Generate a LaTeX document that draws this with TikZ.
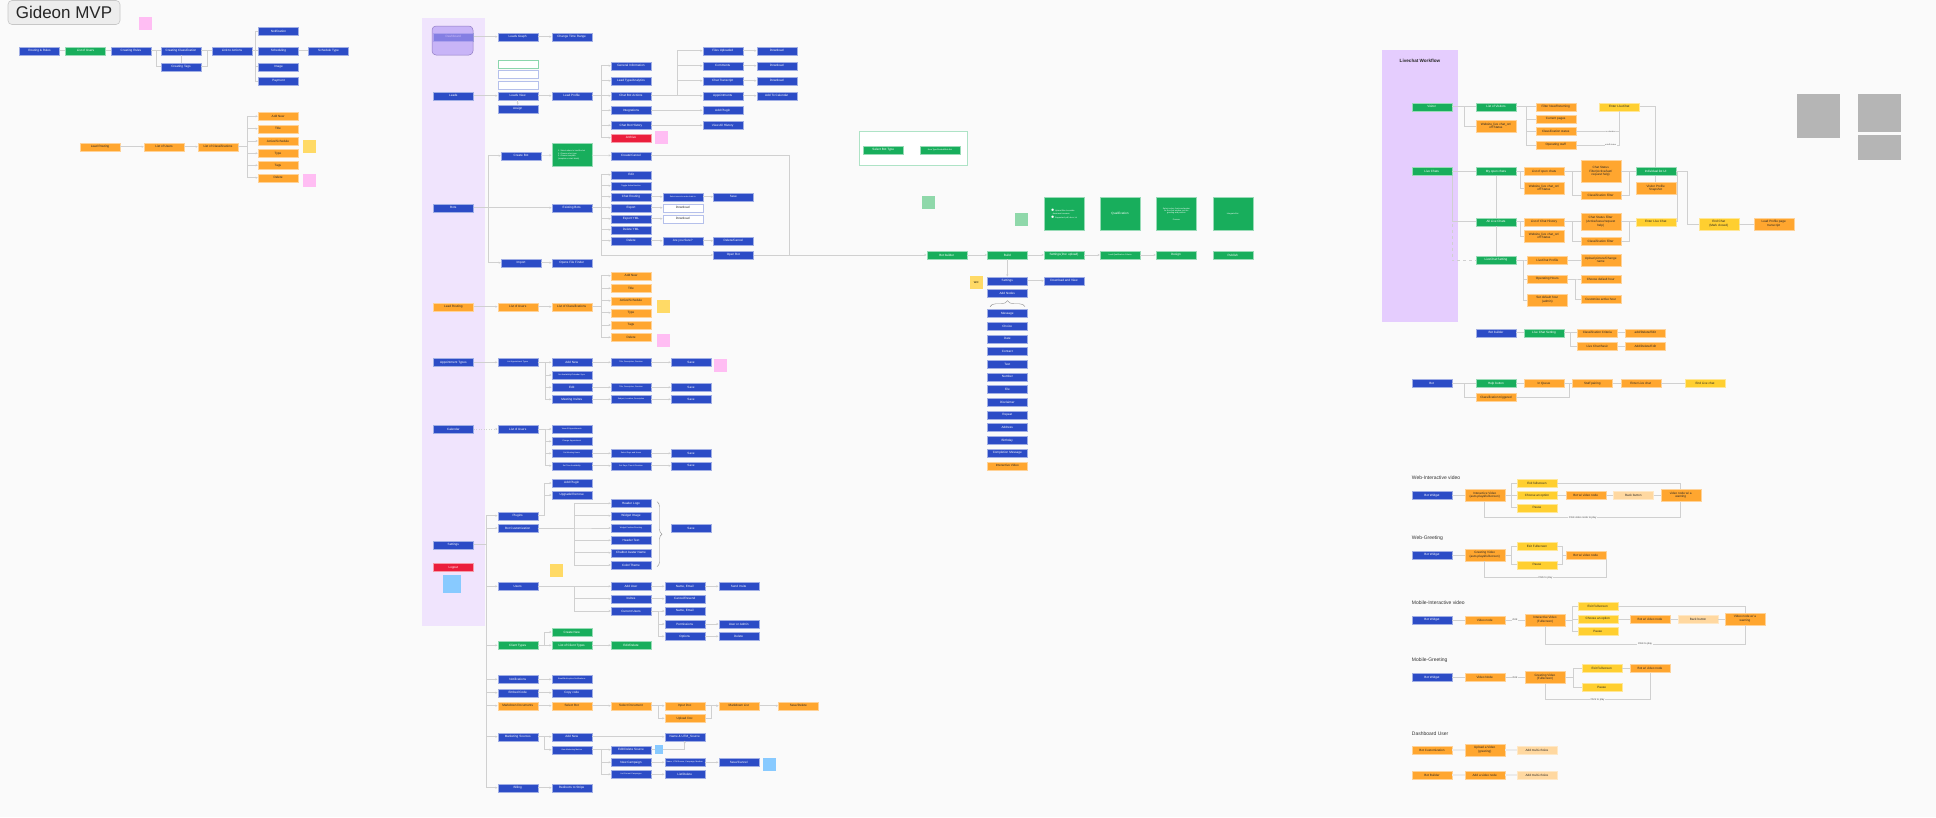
\documentclass[tikz,border=0pt]{standalone}
\usepackage{fontspec}
\setmainfont{Liberation Sans}
\usetikzlibrary{arrows.meta, positioning, decorations.pathreplacing}
\definecolor{cblue}{HTML}{2C4CC6}
\definecolor{cgreen}{HTML}{18AE5C}
\definecolor{corange}{HTML}{FFA62F}
\definecolor{cyellow}{HTML}{FFCF30}
\definecolor{cred}{HTML}{EB1E3C}
\definecolor{cpale}{HTML}{FFD8A0}
\definecolor{cline}{HTML}{D0D0D0}
\definecolor{cbg}{HTML}{FAFAFA}
\definecolor{cpanel}{HTML}{F0E4FD}
\definecolor{cpanelb}{HTML}{E5CDFE}
\definecolor{cviolet}{HTML}{B49BF4}
\definecolor{cpink}{HTML}{FFBDF3}
\definecolor{csticky}{HTML}{FFDA66}
\definecolor{csky}{HTML}{88CAFF}
\definecolor{cmint}{HTML}{8FD8AA}
\definecolor{cnote}{HTML}{B5B5B5}
\tikzset{
  box/.style={rectangle, minimum width=40pt, minimum height=8pt, inner sep=0.4pt, align=center, font=\fontsize{3.1}{3.7}\selectfont, line width=0.4pt},
  nblue/.style={box, fill=cblue, draw=cblue!45, text=white},
  ngreen/.style={box, fill=cgreen, draw=cgreen!45, text=white},
  norange/.style={box, fill=corange, draw=corange!50, text=black!85},
  nyellow/.style={box, fill=cyellow, draw=cyellow!50, text=black!85},
  nred/.style={box, fill=cred, draw=cred!45, text=white},
  npale/.style={box, fill=cpale, draw=cpale!60, text=black!85},
  nwhite/.style={box, fill=white, draw=cblue!35, text=black!85},
  tinytext/.style={font=\fontsize{2}{2.4}\selectfont},
  twoline/.style={minimum height=12pt},
  sticky/.style={fill=#1, minimum width=13pt, minimum height=13pt, inner sep=0pt, font=\fontsize{2.6}{3}\selectfont},
  sticky/.default=csticky,
  link/.style={draw=cline, line width=0.5pt},
  arrow/.style={link, -{Stealth[length=2.2pt, width=2.2pt]}},
  lbl/.style={fill=cbg, inner sep=0.6pt, font=\fontsize{2.6}{3}\selectfont, text=black!70},
  head/.style={anchor=west, inner sep=0pt, font=\fontsize{5}{6}\selectfont, text=black!80},
  titlebox/.style={fill=black!7, draw=black!22, line width=0.6pt, rounded corners=4pt, minimum width=112pt, minimum height=24pt, font=\fontsize{17}{18}\selectfont, text=black!85},
  lens/.style={fill=cviolet, fill opacity=0.65, draw=cviolet!80!black, line width=0.5pt, rounded corners=4pt, minimum width=41pt, minimum height=29pt},
  greybox/.style={fill=cnote, inner sep=0pt},
  brace/.style={draw=black!45, line width=0.4pt, decorate, decoration={brace, amplitude=#1}},
  brace/.default=4pt,
}

\begin{document}
\begin{tikzpicture}[x=1pt, y=-1pt]
  \fill[cbg] (0,0) rectangle (1936,817);
  \fill[cpanel] (422,18.3) rectangle (485,625.7);
  \fill[cpanelb] (1381.7,49.5) rectangle (1457.7,321.7);

  % top left
  \node[titlebox] (ttl) at (64,12.5) {Gideon MVP};
  \node[sticky=cpink] (pk1) at (145,23.5) {};
  \node[nblue] (rr) at (39.5,50.7) {Routing \& Rules};
  \node[ngreen] (lu) at (85.5,50.7) {List of Users};
  \node[nblue] (cr) at (131,50.7) {Creating Rules};
  \node[nblue] (cc) at (181,50.7) {Creating Classification};
  \node[nblue] (ct) at (181,66.7) {Creating Tags};
  \node[nblue] (la) at (232,50.7) {Link to Actions};
  \foreach \n/\y/\t in {nf/31.3/Notification, sc/50.7/Scheduling, img/66.7/Image, pay/81/Payment} \node[nblue] (\n) at (278.5,\y) {\t};
  \node[nblue] (sty) at (328.5,50.7) {Schedule Type};
  \foreach \a/\b in {rr/lu, lu/cr, cr/cc, cc/la, sc/sty, cc/ct} \draw[link] (\a) -- (\b);
  \draw[link] (cr.east) -- ++(4.7,0) |- (ct.west);
  \draw[link] (ct.east) -- ++(6,0) |- (la.west);
  \foreach \c in {nf, sc, img, pay} \draw[link] (la.east) -- ++(3,0) |- (\c.west);

  \node[norange] (lr) at (100,146.7) {Lead Routing};
  \node[norange] (lru) at (164,146.7) {List of Users};
  \node[norange] (lrc) at (218,146.7) {List of Classifications};
  \foreach \n/\y/\t in {lra/116.3/Add New, lrt/128.7/Title, lrs/141/{Active/Schedule}, lry/153.3/Type, lrg/165.3/Tags, lrd/177.7/Delete} \node[norange] (\n) at (278,\y) {\t};
  \draw[arrow] (lr) -- (lru); \draw[arrow] (lru) -- (lrc);
  \foreach \c in {lra, lrt, lrs, lry, lrg, lrd} \draw[arrow] (lrc.east) -- ++(9,0) |- (\c.west);
  \node[sticky] (sy1) at (309.5,146.5) {};
  \node[sticky=cpink] (pk2) at (309.5,180.5) {};

  % middle column
  \node[nblue] (dsh) at (453.3,36.7) {Dashboard};
  \node[lens] (lns) at (452.5,40.5) {};
  \node[nblue] (lgr) at (517.7,36.7) {Leads Graph};
  \node[nblue] (ctr) at (571.7,36.7) {Change Time Range};
  \draw[arrow] (dsh) -- (lgr); \draw[arrow] (lgr) -- (ctr);

  \node[nwhite, draw=cgreen!50] (wb1) at (517.7,64) {};
  \node[nwhite] (wb2) at (517.7,74.3) {};
  \node[nwhite] (wb3) at (517.7,85) {};
  \node[nblue] (lds) at (453.3,95.7) {Leads};
  \node[nblue] (ldv) at (517.7,95.7) {Leads View};
  \node[nblue] (asg) at (517.7,109) {Assign};
  \node[nblue] (lpf) at (571.7,95.7) {Lead Profile};
  \draw[arrow] (lds) -- (ldv); \draw[arrow] (ldv) -- (lpf); \draw[arrow] (ldv) -- (asg);
  \foreach \n/\y/\t in {gin/65.7/General Information, lta/80.7/{Lead Type/Analytics}, cba/95.7/Chat Bot Actions, itg/110.3/Integrations, cbh/125.3/Chat Bot History} \node[nblue] (\n) at (631,\y) {\t};
  \node[nred] (arc) at (631,137.7) {Archive};
  \node[sticky=cpink] (pk3) at (661,137.5) {};
  \foreach \c in {gin, lta, cba, itg, cbh, arc} \draw[arrow] (lpf.east) -- ++(9.3,0) |- (\c.west);
  \foreach \n/\y/\t in {fup/50.7/Files Uploaded, cmt/65.7/Comments, ctp/80.7/Chat Transcript, apt/95.7/Appointments} \node[nblue] (\n) at (722.7,\y) {\t};
  \foreach \c in {fup, cmt, ctp, apt} \draw[arrow] (cba.east) -- ++(25.7,0) |- (\c.west);
  \foreach \n/\y in {dl1/50.7, dl2/65.7, dl3/80.7} \node[nblue] (\n) at (776.7,\y) {Download};
  \node[nblue] (atc) at (776.7,95.7) {Add To Calendar};
  \node[nblue] (apl) at (722.7,110.3) {Add Plugin};
  \node[nblue] (vah) at (722.7,125.3) {View All History};
  \foreach \a/\b in {fup/dl1, cmt/dl2, ctp/dl3, apt/atc, itg/apl, cbh/vah} \draw[arrow] (\a) -- (\b);

  \node[nblue] (bts) at (453.3,207.7) {Bots};
  \node[nblue] (cbt) at (521,155.7) {Create Bot};
  \node[ngreen, minimum height=23pt, tinytext, align=left] (cbs) at (571.7,155) {1. Select where to load the bot\\2. Choose a bot type\\3. Choose template\\(template or start blank)};
  \node[nblue] (ccl) at (631,155.7) {Create/Cancel};
  \node[nblue] (ebt) at (571.7,207.7) {Existing Bots};
  \node[nblue] (imp) at (521,262.7) {Import};
  \node[nblue] (off) at (571.7,262.7) {Opens File Finder};
  \foreach \n/\y/\t in {edt/174.7/Edit, chr/196.7/Chat Routing, exp/207.7/Export, exy/218.7/Export YML, dly/229.7/Delete YML, dlt/240.7/Delete} \node[nblue] (\n) at (631,\y) {\t};
  \node[nblue, tinytext] (tgl) at (631,185.7) {Toggle Active/Inactive};
  \node[nblue] (obt) at (733.3,255) {Open Bot};
  \node[nblue, tinytext] (crt) at (682.7,196.7) {Select users to route chats to};
  \node[nblue] (sv1) at (733.3,196.7) {Save};
  \node[nwhite] (dw1) at (682.7,207.7) {Download};
  \node[nwhite] (dw2) at (682.7,218.7) {Download};
  \node[nblue] (ays) at (682.7,240.7) {Are you Sure?};
  \node[nblue] (dcn) at (733.3,240.7) {Delete/Cancel};
  \draw[arrow] (bts) -- (ebt);
  \foreach \c in {cbt, imp} \draw[arrow] (bts.east) -- ++(14.4,0) |- (\c.west);
  \foreach \a/\b in {cbt/cbs, cbs/ccl, imp/off, chr/crt, crt/sv1, exp/dw1, exy/dw2, dlt/ays, ays/dcn} \draw[arrow] (\a) -- (\b);
  \foreach \c in {edt, tgl, chr, exp, exy, dly, dlt, obt} \draw[arrow] (ebt.east) -- ++(9.3,0) |- (\c.west);
  \coordinate (jbt) at (789,255);
  \draw[link] (ccl.east) -| (jbt);

  \node[norange] (lr2) at (453.3,306.7) {Lead Routing};
  \node[norange] (lu2) at (517.7,306.7) {List of Users};
  \node[norange] (lc2) at (571.7,306.7) {List of Classifications};
  \foreach \n/\y/\t in {ka/275.7/Add New, kt/288.3/Title, ks/300.7/{Active/Schedule}, ky/312.7/Type, kg/325/Tags, kd/337.3/Delete} \node[norange] (\n) at (631,\y) {\t};
  \draw[arrow] (lr2) -- (lu2); \draw[arrow] (lu2) -- (lc2);
  \foreach \c in {ka, kt, ks, ky, kg, kd} \draw[arrow] (lc2.east) -- ++(9.3,0) |- (\c.west);
  \node[sticky] (sy2) at (663.3,306.7) {};
  \node[sticky=cpink] (pk4) at (663.3,340) {};

  \node[nblue] (apy) at (453.3,362.3) {Appointment Types};
  \node[nblue, tinytext] (lat) at (517.7,362.3) {List Appointment Types};
  \node[nblue] (aan) at (571.7,362.3) {Add New};
  \node[nblue, tinytext] (aac) at (571.7,375) {Set Availability/Calendar Sync};
  \node[nblue] (aed) at (571.7,387.3) {Edit};
  \node[nblue] (ami) at (571.7,399.3) {Meeting Invites};
  \draw[arrow] (apy) -- (lat);
  \foreach \c in {aan, aac, aed, ami} \draw[arrow] (lat.east) -- ++(7.3,0) |- (\c.west);
  \foreach \n/\y/\t in {ad1/362.3/{Title, Description, Duration}, ad2/387.3/{Title, Description, Duration}, ad3/399.3/{Subject, Location, Description}} \node[nblue, tinytext] (\n) at (631,\y) {\t};
  \foreach \n/\y in {as1/362.3, as2/387.3, as3/399.3} \node[nblue] (\n) at (691,\y) {Save};
  \foreach \a/\b in {aan/ad1, aed/ad2, ami/ad3, ad1/as1, ad2/as2, ad3/as3} \draw[arrow] (\a) -- (\b);
  \node[sticky=cpink] (pk5) at (720.3,365) {};

  \node[nblue] (cal) at (453.3,429) {Calendar};
  \node[nblue] (clu) at (517.7,429) {List of Users};
  \draw[arrow, dotted] (cal) -- (clu);
  \foreach \n/\y/\t in {cl1/429/View All Appointments, cl2/441.3/Change Appointment, cl3/453.3/Set Meeting Hours, cl4/465.7/Set Time Availability} \node[nblue, tinytext] (\n) at (571.7,\y) {\t};
  \foreach \c in {cl1, cl2, cl3, cl4} \draw[arrow] (clu.east) -- ++(7.3,0) |- (\c.west);
  \node[nblue, tinytext] (cd3) at (631,453.3) {Select Days and Hours};
  \node[nblue, tinytext] (cd4) at (631,465.7) {Set Days, Time \& Duration};
  \node[nblue] (cs3) at (691,453.3) {Save};
  \node[nblue] (cs4) at (691,465.7) {Save};
  \foreach \a/\b in {cl3/cd3, cl4/cd4, cd3/cs3, cd4/cs4} \draw[arrow] (\a) -- (\b);

  \node[nblue] (stg) at (453.3,544.7) {Settings};
  \node[nred] (lgo) at (453.3,567.3) {Logout};
  \node[sticky=csky, minimum width=18pt, minimum height=18pt] (sk1) at (451.5,583.5) {};
  \node[nblue] (plg) at (517.7,515.7) {Plugins};
  \node[nblue] (adp) at (571.7,483) {Add Plugin};
  \node[nblue] (upr) at (571.7,495) {Upgrade/Remove};
  \foreach \c in {adp, upr} \draw[arrow] (plg.east) -- ++(6.6,0) |- (\c.west);
  \node[nblue] (bcu) at (517.7,528) {Bot Customization};
  \foreach \n/\y/\t in {hlg/503.3/Header Logo, wim/515.7/Widget Image, htx/540.3/Header Text, can/552.7/Chatbot Avatar Name, clt/565/{Color/Theme}} \node[nblue] (\n) at (631,\y) {\t};
  \node[nblue, tinytext] (wps) at (631,528) {Widget Position/Greeting};
  \foreach \c in {hlg, wim, wps, htx, can, clt} \draw[arrow] (bcu.east) -- ++(36.6,0) |- (\c.west);
  \draw[brace=5pt] (657,501.7) -- (657,566.7);
  \node[nblue] (sv4) at (691,528) {Save};
  \node[sticky] (sy3) at (556,570.7) {};

  \node[nblue] (usr) at (517.7,586.3) {Users};
  \foreach \n/\y/\t in {aus/586.3/Add User, inv/598.7/Invites, cus/611/Current Users} \node[nblue] (\n) at (631,\y) {\t};
  \foreach \c in {aus, inv, cus} \draw[arrow] (usr.east) -- ++(36.6,0) |- (\c.west);
  \node[nblue] (ne1) at (684.7,586.3) {Name, Email};
  \node[nblue] (crs) at (684.7,598.7) {Cancel/Resend};
  \node[nblue] (sdi) at (738.7,586.3) {Send Invite};
  \foreach \n/\y/\t in {ne2/611/{Name, Email}, prm/624/Permissions, opt/636.3/Options} \node[nblue] (\n) at (684.7,\y) {\t};
  \foreach \c in {ne2, prm, opt} \draw[arrow] (cus.east) -- ++(7.3,0) |- (\c.west);
  \node[nblue] (uoa) at (738.7,624) {User or Admin};
  \node[nblue] (dlu) at (738.7,636.3) {Delete};
  \foreach \a/\b in {aus/ne1, ne1/sdi, inv/crs, prm/uoa, opt/dlu} \draw[arrow] (\a) -- (\b);

  \node[ngreen] (cty) at (517.7,645.3) {Client Types};
  \node[ngreen] (cnw) at (571.7,632) {Create New};
  \node[ngreen] (lct) at (571.7,645.3) {List of Client Types};
  \node[ngreen] (edl) at (631,645.3) {Edit/Delete};
  \foreach \c in {cnw, lct} \draw[arrow] (cty.east) -- ++(6.6,0) |- (\c.west);
  \draw[arrow] (lct) -- (edl);

  \node[nblue] (ntf) at (517.7,679.3) {Notifications};
  \node[nblue, tinytext] (ntt) at (571.7,679.3) {Email/Multi-option Notifications};
  \node[nblue] (emb) at (517.7,692.7) {Embed Code};
  \node[nblue] (cpy) at (571.7,692.7) {Copy code};
  \node[norange] (mdd) at (517.7,705.7) {Markdown Documents};
  \node[norange] (slb) at (571.7,705.7) {Select Bot};
  \node[norange] (sld) at (631,705.7) {Select Document};
  \node[norange] (ipd) at (684.7,705.7) {Input Doc};
  \node[norange] (upd) at (684.7,718.3) {Upload Doc};
  \node[norange] (mdl) at (738.7,705.7) {Markdown List};
  \node[norange] (svd) at (798.3,705.7) {Save/Delete};
  \foreach \a/\b in {ntf/ntt, emb/cpy, mdd/slb, slb/sld, ipd/mdl, mdl/svd} \draw[arrow] (\a) -- (\b);
  \foreach \c in {ipd, upd} \draw[arrow] (sld.east) -- ++(7.3,0) |- (\c.west);
  \draw[arrow] (upd.east) -- ++(6.3,0) |- (mdl.west);

  \node[nblue] (mks) at (517.7,736.7) {Marketing Sources};
  \node[nblue] (mad) at (571.7,736.7) {Add New};
  \node[nblue, tinytext] (mvm) at (571.7,749.7) {View Marketing Metrics};
  \node[nblue] (nut) at (684.7,736.7) {Name \& UTM\_Source};
  \node[nblue] (eds) at (631,749.7) {Edit/Delete Source};
  \node[nblue] (ncp) at (631,762.3) {New Campaign};
  \node[nblue, tinytext] (lcm) at (631,774.3) {List Current Campaigns};
  \node[nblue, tinytext] (ncd) at (684.7,762.3) {Name, UTM Source, Campaign, Medium};
  \node[nblue] (svc) at (738.7,762.3) {Save/Cancel};
  \node[nblue] (lsd) at (684.7,774.3) {List/Delete};
  \foreach \c in {mad, mvm} \draw[arrow] (mks.east) -- ++(6.6,0) |- (\c.west);
  \foreach \c in {eds, ncp, lcm} \draw[arrow] (mvm.east) -- ++(9.3,0) |- (\c.west);
  \foreach \a/\b in {mad/nut, ncp/ncd, ncd/svc, lcm/lsd} \draw[arrow] (\a) -- (\b);
  \draw[arrow] (eds.east) -| (nut.south);
  \node[sticky=csky, minimum width=8pt, minimum height=9pt] (sk2) at (658.5,749.5) {};
  \node[sticky=csky] (sk3) at (769.7,764.7) {};

  \node[nblue] (bil) at (517.7,787.7) {Billing};
  \node[nblue] (rts) at (571.7,787.7) {Redirects to Stripe};
  \draw[arrow] (bil) -- (rts);
  \foreach \c in {plg, bcu, usr, cty, ntf, emb, mdd, mks, bil} \draw[arrow] (stg.east) -- ++(12.4,0) |- (\c.west);

  % bot builder
  \draw[cgreen!35, line width=0.6pt, fill=white] (859.3,131.7) rectangle (967.3,165);
  \node[ngreen] (sbt) at (883.3,150) {Select Bot Type};
  \node[ngreen, tinytext] (btt) at (940,150) {New Type/Guided/Web Bot};
  \node[sticky=cmint] (mn1) at (928,202.7) {};
  \node[sticky=cmint] (mn2) at (1021.3,219.7) {};
  \node[ngreen, minimum height=33pt, tinytext, align=left] (gs1) at (1064,214) {$\bullet$ Upload files to enable\\[0.3pt] \quad document answers\\[0.3pt] $\bullet$ Supported: pdf, docx, txt};
  \node[ngreen, minimum height=33pt] (gs2) at (1120,214) {Qualification};
  \node[ngreen, minimum height=33pt, tinytext] (gs3) at (1176.3,214) {Select colors, fonts and avatar\\for the chat window, set the\\greeting and position\\[4pt] Preview};
  \node[ngreen, minimum height=33pt, tinytext] (gs4) at (1232.7,214) {Integrate Bot};
  \node[ngreen] (bbd) at (946.7,255) {Bot builder};
  \node[ngreen] (bld) at (1007.3,255) {Build};
  \node[ngreen] (sdu) at (1064,255) {Settings(Doc upload)};
  \node[ngreen, tinytext] (qlc) at (1120,255) {Lead Qualification Criteria};
  \node[ngreen] (dsg) at (1176,255) {Design};
  \node[ngreen] (pbl) at (1232.7,255) {Publish};
  \foreach \a/\b in {obt/bbd, bbd/bld, bld/sdu, sdu/qlc, qlc/dsg} \draw[arrow] (\a) -- (\b);

  \node[nblue] (bst) at (1007.3,280.7) {Settings};
  \node[nblue] (dav) at (1064,280.7) {Download and View};
  \node[sticky] (sy4) at (976.3,282.7) {W/C};
  \node[nblue] (adn) at (1007.3,293.3) {Add Nodes};
  \draw[arrow] (bld) -- (bst); \draw[arrow] (bst) -- (dav);
  \draw[brace=6pt] (990,306.7) -- (1025,306.7);
  \foreach \t [count=\i] in {Message, Choice, Date, Contact, Text, Number, File, Disclaimer, Repeat, Address, Birthday, Completion Message} \node[nblue] (nd\i) at (1007.3,{313.3+12.7*(\i-1)}) {\t};
  \node[norange] (ivd) at (1007.3,465.7) {Interactive Video};

  % livechat workflow
  \node[font=\bfseries\fontsize{4.6}{5.5}\selectfont, text=black!85] (lwt) at (1420,61) {Livechat Workflow};
  \node[ngreen] (vis) at (1431.7,106.7) {Visitor};
  \node[ngreen] (lov) at (1496,106.7) {List of Visitors};
  \node[norange, twoline] (ws1) at (1496,126) {Website\_live chat\_on/\\off Status};
  \foreach \n/\y/\t in {fnr/106.7/{Filter New/Returning}, cpg/119/Current pages, cls/131.3/Classification status, ops/145/Operating staff} \node[norange] (\n) at (1555.7,\y) {\t};
  \node[nyellow] (eli) at (1619.3,106.7) {Enter LiveChat};
  \draw[link] (vis) -- (lov);
  \draw[link] (vis.east) -- ++(12.6,0) |- (ws1.west);
  \foreach \c in {fnr, cpg, cls, ops} \draw[link] (lov.east) -- ++(9.7,0) |- (\c.west);
  \draw[link] (cls.east) -| node[pos=0.4, lbl, tinytext] {no duration} (eli.south);
  \draw[link] (ops.east) -| node[pos=0.4, lbl, tinytext] {on/off status} (eli.south);

  \node[ngreen] (lvc) at (1431.7,171.3) {Live Chats};
  \node[ngreen] (moc) at (1496,171.3) {My open chats};
  \node[norange] (loc) at (1544,171.3) {List of open chats};
  \node[norange, twoline] (ws2) at (1544,188) {Website\_live chat\_on/\\off Status};
  \node[norange, minimum height=22.7pt] (csf) at (1600.7,171.3) {Chat Status\\Filter(Active/last/\\request help)};
  \node[norange] (cf1) at (1600.7,195) {Classification Filter};
  \node[ngreen] (ilu) at (1655.7,171.3) {Individual list UI};
  \node[norange, twoline] (vps) at (1655.7,188.3) {Visitor Profile\\Snapshot};
  \foreach \a/\b in {lvc/moc, moc/loc, csf/ilu, ilu/vps} \draw[link] (\a) -- (\b);
  \draw[link] (moc.east) -- ++(4.5,0) |- (ws2.west);
  \foreach \c in {csf, cf1} \draw[link] (loc.east) -- ++(8.3,0) |- (\c.west);
  \draw[link] (cf1.east) -- ++(8.3,0) |- (ilu.west);
  \draw[link] (eli.east) -| (ilu.north);

  \node[ngreen] (alc) at (1496,221.7) {All Live Chats};
  \node[norange] (lch) at (1544,221.7) {List of Chat History};
  \node[norange, twoline] (ws3) at (1544,236) {Website\_live chat\_on/\\off Status};
  \node[norange, minimum height=16.7pt] (csg) at (1600.7,221.7) {Chat Status Filter\\(Active/leave/request\\help)};
  \node[norange] (cf2) at (1600.7,241.3) {Classification Filter};
  \node[nyellow] (elv) at (1655.7,221.7) {Enter Live Chat};
  \node[nyellow, twoline] (ecm) at (1718.7,224) {End Chat\\(Mark closed)};
  \node[norange, twoline] (lpt) at (1773.7,224) {Lead Profile page\\transcript};
  \foreach \a/\b in {alc/lch, csg/elv, ecm/lpt} \draw[link] (\a) -- (\b);
  \draw[link] (alc.east) -- ++(4.5,0) |- (ws3.west);
  \foreach \c in {csg, cf2} \draw[link] (lch.east) -- ++(8.3,0) |- (\c.west);
  \draw[link] (cf2.east) -- ++(8.3,0) |- (elv.west);
  \draw[link] (elv.east) -- ++(1.6,0) |- (ilu.east);
  \draw[link] (ilu.east) -- ++(11,0) |- (ecm.west);

  \node[ngreen] (lcs) at (1496,260) {LiveChat Setting};
  \node[norange] (lcp) at (1547.3,260) {LiveChat Profile};
  \node[norange, twoline] (upn) at (1600.7,260) {Upload picture/Change\\name};
  \node[norange] (oph) at (1547.3,279) {Operating Hours};
  \node[norange] (cdh) at (1600.7,279) {Choose default hour};
  \node[norange, twoline] (sdh) at (1547.3,300) {Set default hour\\(admin)};
  \node[norange] (cah) at (1600.7,299) {Customize active hour};
  \foreach \c in {lcp, oph, sdh} \draw[link] (lcs.east) -- ++(7,0) |- (\c.west);
  \draw[link] (lcp) -- (upn);
  \foreach \c in {cdh, cah} \draw[link] (oph.east) -- ++(7.7,0) |- (\c.west);
  \draw[link] (moc) -- (alc); \draw[link] (alc) -- (lcs);
  \draw[link, dashed] (lvc.south east) |- (lcs.west);
  \draw[link] (lvc.south east) |- (alc.west);

  \node[nblue] (bbl) at (1496,332.7) {Bot builder};
  \node[ngreen] (lcg) at (1544,332.7) {Live Chat Setting};
  \node[norange] (ccr) at (1597.3,332.7) {Classification Criteria};
  \node[norange] (lcb) at (1597.3,346.3) {Live Chat Basic};
  \node[norange] (ade) at (1645.3,332.7) {add/Delete/Edit};
  \node[norange] (adb) at (1645.3,346.3) {Add/Delete/Edit};
  \foreach \a/\b in {bbl/lcg, ccr/ade, lcb/adb} \draw[link] (\a) -- (\b);
  \foreach \c in {ccr, lcb} \draw[link] (lcg.east) -- ++(6,0) |- (\c.west);

  \node[nblue] (bot) at (1431.7,383.3) {Bot};
  \node[ngreen] (hbt) at (1496,383.3) {Help button};
  \node[norange] (ctg) at (1496,397.3) {Classification triggered};
  \node[norange] (inq) at (1544,383.3) {In Queue};
  \node[norange] (spr) at (1592.3,383.3) {Staff pairing};
  \node[norange] (elc) at (1640.7,383.3) {Enter Live chat};
  \node[nyellow] (enc) at (1705,383.3) {End Live chat};
  \foreach \a/\b in {bot/hbt, hbt/inq, inq/spr, spr/elc, elc/enc} \draw[link] (\a) -- (\b);
  \draw[link] (bot.east) -- ++(12.6,0) |- (ctg.west);
  \draw[link] (ctg.east) -- ++(53.3,0) |- (spr.west);

  \node[greybox, minimum width=42.7pt, minimum height=44.3pt] (gn1) at (1818.7,116.2) {};
  \node[greybox, minimum width=42.4pt, minimum height=37.7pt] (gn2) at (1879.5,112.8) {};
  \node[greybox, minimum width=42.4pt, minimum height=25pt] (gn3) at (1879.5,147.5) {};

  % video flows
  \node[head] (hwi) at (1411.7,477.7) {Web-Interactive video};
  \node[nblue] (bw1) at (1432,495.3) {Bot Widget};
  \node[norange, twoline] (iv1) at (1484.7,495.3) {Interactive Video\\(auto-play\&fullscreen)};
  \node[nyellow] (ef1) at (1537,483) {Exit fullscreen};
  \node[nyellow] (co1) at (1537,495.3) {Choose an option};
  \node[nyellow] (pa1) at (1537,507.7) {Pause};
  \node[norange] (bv1) at (1585.7,495.3) {Bot w/ video node};
  \node[npale] (bb1) at (1633.3,495.3) {Back button};
  \node[norange, twoline] (vw1) at (1680.7,495.3) {video node w/ a\\warning};
  \foreach \a/\b in {bw1/iv1, co1/bv1, bv1/bb1, bb1/vw1} \draw[link] (\a) -- (\b);
  \foreach \c in {ef1, co1, pa1} \draw[link] (iv1.east) -- ++(6,0) |- (\c.west);
  \draw[link] (ef1.east) -| (vw1.north);
  \draw[link] (iv1.south) -- ++(0,16) -| node[pos=0.25, lbl] {Click video node to play} (vw1.south);

  \node[head] (hwg) at (1411.7,537.7) {Web-Greeting};
  \node[nblue] (bw2) at (1432,555) {Bot Widget};
  \node[norange, twoline] (gv2) at (1484.7,555) {Greeting Video\\(auto-play\&fullscreen)};
  \node[nyellow] (ef2) at (1537,546.3) {Exit Fullscreen};
  \node[nyellow] (pa2) at (1537,564.7) {Pause};
  \node[norange] (bv2) at (1585.7,555) {Bot w/ video node};
  \draw[link] (bw2) -- (gv2);
  \foreach \c in {ef2, pa2} \draw[link] (gv2.east) -- ++(6,0) |- (\c.west);
  \foreach \c in {ef2, pa2} \draw[link] (\c.east) -- ++(4.7,0) |- (bv2.west);
  \draw[link] (gv2.south) -- ++(0,16.3) -| node[pos=0.25, lbl] {Click to play} (bv2.south east);

  \node[head] (hmi) at (1411.7,602.7) {Mobile-Interactive video};
  \node[nblue] (bw3) at (1432,620) {Bot Widget};
  \node[norange] (vn3) at (1484.7,620) {Video node};
  \node[norange, twoline] (iv3) at (1545,620) {Interactive Video\\(Fullscreen)};
  \node[nyellow] (ef3) at (1597.7,606.3) {Exit Fullscreen};
  \node[nyellow] (co3) at (1597.7,619) {Choose an option};
  \node[nyellow] (pa3) at (1597.7,631) {Pause};
  \node[norange] (bv3) at (1650,619) {Bot w/ video node};
  \node[npale] (bb3) at (1698,619) {Back button};
  \node[norange, twoline] (vw3) at (1745,619) {Video node w/ a\\warning};
  \draw[link] (bw3) -- (vn3);
  \draw[link] (vn3) -- node[lbl] {click} (iv3);
  \foreach \a/\b in {co3/bv3, bv3/bb3, bb3/vw3} \draw[link] (\a) -- (\b);
  \foreach \c in {ef3, co3, pa3} \draw[link] (iv3.east) -- ++(6.7,0) |- (\c.west);
  \draw[link] (ef3.east) -| (vw3.north);
  \draw[link] (iv3.south) -- ++(0,18) -| node[pos=0.25, lbl] {Click to play} (vw3.south);

  \node[head] (hmg) at (1411.7,659.7) {Mobile-Greeting};
  \node[nblue] (bw4) at (1432,677.3) {Bot Widget};
  \node[norange] (vn4) at (1484.7,677.3) {Video Node};
  \node[norange, twoline] (gv4) at (1545,677.3) {Greeting Video\\(Fullscreen)};
  \node[nyellow] (ef4) at (1601.7,668.3) {Exit Fullscreen};
  \node[nyellow] (pa4) at (1601.7,687) {Pause};
  \node[norange] (bv4) at (1650,668.3) {Bot w/ video node};
  \draw[link] (bw4) -- (vn4);
  \draw[link] (vn4) -- node[lbl] {click} (gv4);
  \foreach \c in {ef4, pa4} \draw[link] (gv4.east) -- ++(8,0) |- (\c.west);
  \draw[link] (ef4) -- (bv4);
  \draw[link] (gv4.south) -- ++(0,16) -| node[pos=0.25, lbl] {Click to play} (bv4.south);

  \node[head] (hdu) at (1411.7,733.3) {Dashboard User};
  \node[norange] (bcs) at (1432,750) {Bot Customization};
  \node[norange, twoline] (uvg) at (1484.7,750) {Upload a Video\\(greeting)};
  \node[npale] (am1) at (1537,750) {Add multi-choice};
  \node[norange] (bbu) at (1432,775) {Bot Builder};
  \node[norange] (avn) at (1484.7,775) {Add a video node};
  \node[npale] (am2) at (1537,775) {Add multi-choice};
  \foreach \a/\b in {bcs/uvg, uvg/am1, bbu/avn, avn/am2} \draw[link, draw=black!8, line width=1.2pt] (\a) -- (\b);
\end{tikzpicture}
\end{document}
